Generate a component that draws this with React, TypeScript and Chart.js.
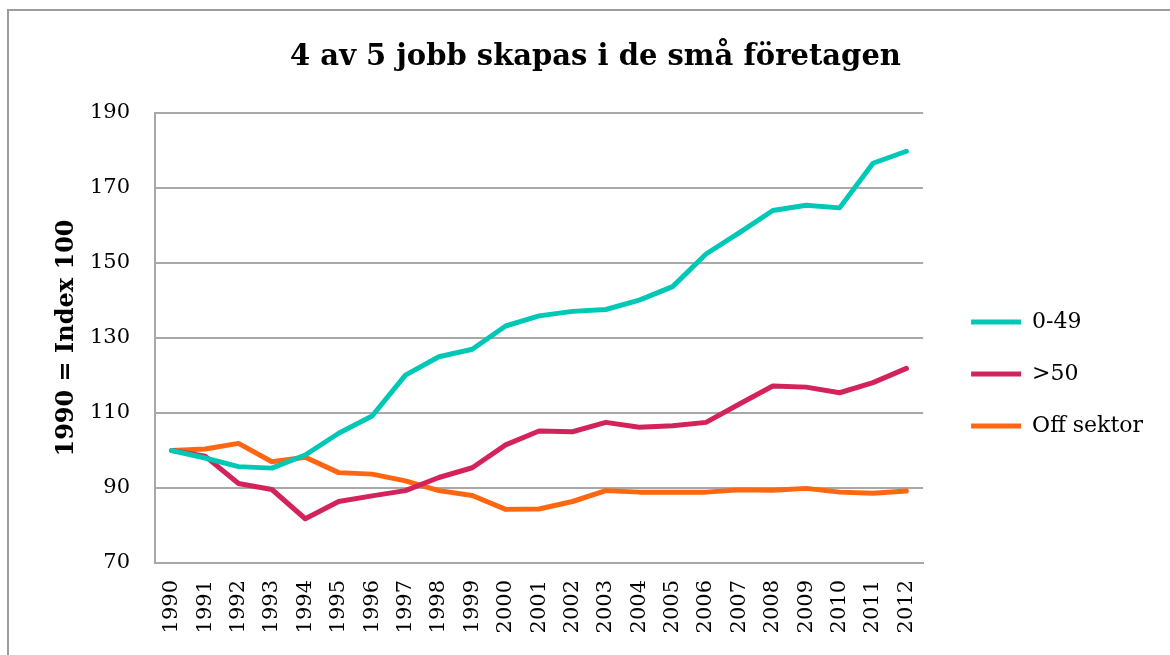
import React, { useEffect, useRef } from "react";
import { Chart, registerables } from "chart.js";

Chart.register(...registerables);

const years = ["1990","1991","1992","1993","1994","1995","1996","1997","1998","1999","2000","2001","2002","2003","2004","2005","2006","2007","2008","2009","2010","2011","2012"];
const small049 = [100, 98, 95.7, 95.3, 98.8, 104.6, 109.2, 120.1, 125, 127, 133.2, 135.9, 137.1, 137.6, 140.1, 143.7, 152.4, 158.1, 164, 165.4, 164.7, 176.6, 179.8];
const large50 = [100, 98.5, 91.2, 89.6, 81.8, 86.4, 87.9, 89.3, 92.8, 95.4, 101.5, 105.2, 105.0, 107.5, 106.2, 106.6, 107.5, 112.4, 117.2, 116.9, 115.4, 118.1, 121.9];
const offSektor = [100, 100.4, 101.9, 97, 98.2, 94.1, 93.7, 91.9, 89.3, 88, 84.3, 84.4, 86.4, 89.3, 88.9, 88.9, 88.9, 89.5, 89.4, 89.9, 88.9, 88.6, 89.2];
const seriesNames = ["0-49", ">50", "Off sektor"];
const seriesColors = ["#00C8B6", "#D4225A", "#FF6611"];
const titleText = "4 av 5 jobb skapas i de små företagen";
const yTitle = "1990 = Index 100";
const yMin = 70;
const yMax = 190;
const yStep = 20;

const FONT = "'DejaVu Serif', serif";
const GRID = "#a8a8a8";

export default function App() {
  const ref = useRef<HTMLCanvasElement | null>(null);
  useEffect(() => {
    if (!ref.current) return;
    const data = [small049, large50, offSektor];
    const chart = new Chart(ref.current, {
      type: "line",
      data: {
        labels: years,
        datasets: data.map((d, i) => ({
          label: seriesNames[i],
          data: d,
          borderColor: seriesColors[i],
          backgroundColor: seriesColors[i],
          borderWidth: 5,
          pointRadius: 0,
          pointHoverRadius: 0,
          tension: 0,
          borderCapStyle: "round" as const,
          borderJoinStyle: "round" as const,
          fill: false,
        })),
      },
      options: {
        responsive: false,
        animation: false,
        layout: { padding: { left: 38, right: 17, top: 0, bottom: 0 } },
        plugins: {
          tooltip: { enabled: false },
          title: {
            display: true,
            text: titleText,
            color: "#000",
            font: { family: FONT, size: 29, weight: "bold" },
            padding: { top: 39.6, bottom: 38.6 },
          },
          legend: {
            display: true,
            position: "right",
            maxWidth: 400,
            title: { display: true, text: "", font: { size: 12 }, padding: { top: 0, bottom: 78.6 } },
            labels: {
              usePointStyle: true,
              pointStyle: "line",
              pointStyleWidth: 50,
              padding: 30,
              color: "#000",
              font: { family: FONT, size: 22 },
            },
          },
        },
        scales: {
          x: {
            offset: true,
            grid: { display: false, drawTicks: false, offset: true },
            border: { display: true, color: GRID, width: 2 },
            ticks: {
              autoSkip: false,
              maxRotation: 90,
              minRotation: 90,
              padding: 17,
              color: "#000",
              font: { family: FONT, size: 21 },
            },
            afterFit: (s: any) => { s.height = 92; },
          },
          y: {
            min: yMin,
            max: yMax,
            grid: { color: GRID, lineWidth: 2, drawTicks: false },
            border: { display: true, color: GRID, width: 2 },
            ticks: {
              stepSize: yStep,
              padding: 25,
              color: "#000",
              font: { family: FONT, size: 21 },
            },
            title: {
              display: true,
              text: yTitle,
              color: "#000",
              font: { family: FONT, size: 24, weight: "bold" },
              padding: { top: 14.6, bottom: 0 },
            },
            afterFit: (s: any) => { s.width = 117; },
          },
          yGap: {
            position: "right",
            display: true,
            grid: { display: false, drawTicks: false },
            border: { display: false },
            ticks: { display: false },
            afterFit: (s: any) => { s.width = 18; },
          },
        },
      },
    } as any);
    return () => chart.destroy();
  }, []);

  return (
    <div style={{ position: "absolute", left: 0, top: 0, width: 1170, height: 655, overflow: "hidden", background: "#fff" }}>
      <div style={{ position: "absolute", left: 7, top: 9, width: 1200, height: 700, borderLeft: "2px solid #9c9c9c", borderTop: "2px solid #9c9c9c" }} />
      <canvas ref={ref} width={1170} height={655} style={{ position: "absolute", left: 0, top: 0, width: 1170, height: 655 }} />
    </div>
  );
}
